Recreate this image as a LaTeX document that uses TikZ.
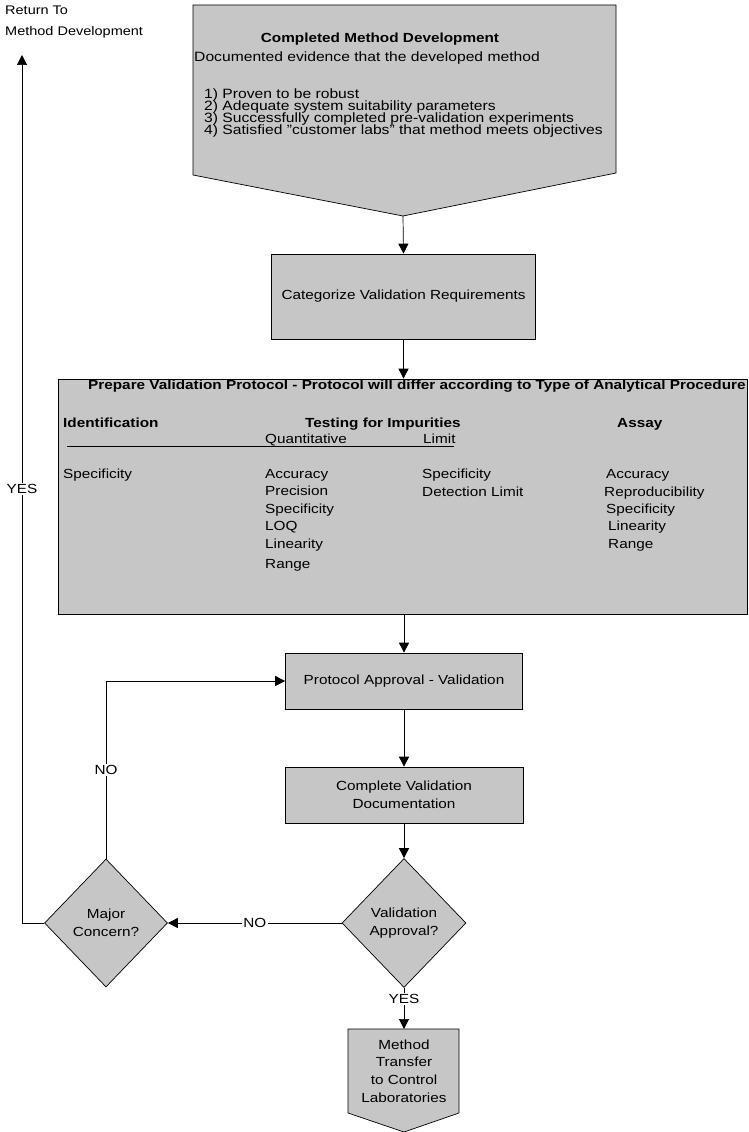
\documentclass[tikz,border=0pt]{standalone}
\usepackage{fontspec}
\setmainfont{Liberation Sans}[FakeStretch=1.16]
\usetikzlibrary{shapes.geometric,arrows.meta}

\tikzset{
  shade/.style={draw, line width=0.7pt, fill=gray!45},
  box/.style={shade, align=center, inner sep=0pt},
  dia/.style={box, diamond, minimum width=124pt, minimum height=129pt},
  arr/.style={line width=0.7pt, -{Triangle[length=10pt,width=10pt]}},
  lbl/.style={fill=white, inner sep=1.5pt},
  txt/.style={anchor=base west, inner sep=0pt},
  big/.style={font=\fontsize{13.5}{16}\selectfont},
}

\begin{document}
\fontsize{13.2}{17.7}\selectfont
\begin{tikzpicture}[x=1pt, y=-1pt]
    \fill[white] (0,0) rectangle (749,1132);
    \useasboundingbox (0,0) rectangle (749,1132);
    % return label
    \node[anchor=north west, align=left, inner sep=0pt, font=\fontsize{12.5}{21}\selectfont] (ret) at (5,6) {Return To\\Method Development};
    \coordinate (rettip) at (22,55);
    % completed method development
    \coordinate (cmdtip) at (403,216);
    \filldraw[shade] (193,5) -- (616,5) -- (616,173) -- (cmdtip) -- (193,175) -- cycle;
    \node[big, anchor=base, inner sep=0pt, font=\bfseries] (cmdtitle) at (380,43) {Completed Method Development};
    \node[big, txt] (cmdtext) at (194,62) {Documented evidence that the developed method};
    \node[big, txt] (item1) at (204,98) {1) Proven to be robust};
    \node[big, txt] (item2) at (204,110) {2) Adequate system suitability parameters};
    \node[big, txt] (item3) at (204,122) {3) Successfully completed pre-validation experiments};
    \node[big, txt] (item4) at (204,134) {4) Satisfied "customer labs" that method meets objectives};
    % categorize
    \node[box, minimum width=264pt, minimum height=85pt] (cat) at (403.5,296.5) {Categorize Validation Requirements};
    % protocol
    \node[box, minimum width=689pt, minimum height=235pt] (prot) at (402.5,496.5) {};
    \node[txt, font=\bfseries] (ptitle) at (88,389) {Prepare Validation Protocol - Protocol will differ according to Type of Analytical Procedure};
    \node[txt, font=\bfseries] (idhead) at (63,427) {Identification};
    \node[txt, font=\bfseries] (imphead) at (305,427) {Testing for Impurities};
    \node[txt, font=\bfseries] (assayhead) at (617,427) {Assay};
    \node[txt] (quant) at (265,443) {Quantitative};
    \node[txt] (limit) at (423,443) {Limit};
    \draw[line width=0.8pt] (67,446) -- (454,446);
    \node[txt] (idspec) at (63,478) {Specificity};
    \node[txt] (qacc) at (265,478) {Accuracy};
    \node[txt] (qprec) at (265,495) {Precision};
    \node[txt] (qspec) at (265,513) {Specificity};
    \node[txt] (qloq) at (265,530) {LOQ};
    \node[txt] (qlin) at (265,548) {Linearity};
    \node[txt] (qrange) at (265,568) {Range};
    \node[txt] (lspec) at (422,478) {Specificity};
    \node[txt] (ldet) at (422,496) {Detection Limit};
    \node[txt] (aacc) at (606,478) {Accuracy};
    \node[txt] (arep) at (604,496) {Reproducibility};
    \node[txt] (aspec) at (606,513) {Specificity};
    \node[txt] (alin) at (608,530) {Linearity};
    \node[txt] (arange) at (608,548) {Range};
    % approval and decisions
    \node[box, minimum width=237pt, minimum height=56pt] (pa) at (404,681) {Protocol Approval - Validation};
    \node[box, minimum width=238pt, minimum height=56pt] (cvd) at (404,795) {Complete Validation\\Documentation};
    \node[dia] (vapp) at (404,923) {Validation\\Approval?};
    \node[dia, minimum width=123pt, minimum height=128pt] (mc) at (106,923) {Major\\Concern?};
    % method transfer
    \coordinate (mttop) at (404,1029);
    \filldraw[shade] (348,1029) -- (459,1029) -- (459,1113) -- (404,1132) -- (348,1113) -- cycle;
    \node[align=center, inner sep=0pt] (mt) at (404,1071) {Method\\Transfer\\to Control\\Laboratories};
    % connectors
    \draw[arr] (cmdtip) -- (cat.north);
    \draw[arr] (cat.south) -- (cat.south |- prot.north);
    \draw[arr] (pa.north |- prot.south) -- (pa.north);
    \draw[arr] (pa.south) -- (cvd.north);
    \draw[arr] (cvd.south) -- (vapp.north);
    \draw[arr] (vapp.south) -- node[pos=0.27, lbl] {YES} (mttop);
    \draw[arr] (vapp.west) -- node[lbl] {NO} (mc.east);
    \draw[arr] (mc.north) |- node[pos=0.25, lbl] {NO} (pa.west);
    \draw[arr] (mc.west) -| node[pos=0.75, lbl] {YES} (rettip);
\end{tikzpicture}
\end{document}
